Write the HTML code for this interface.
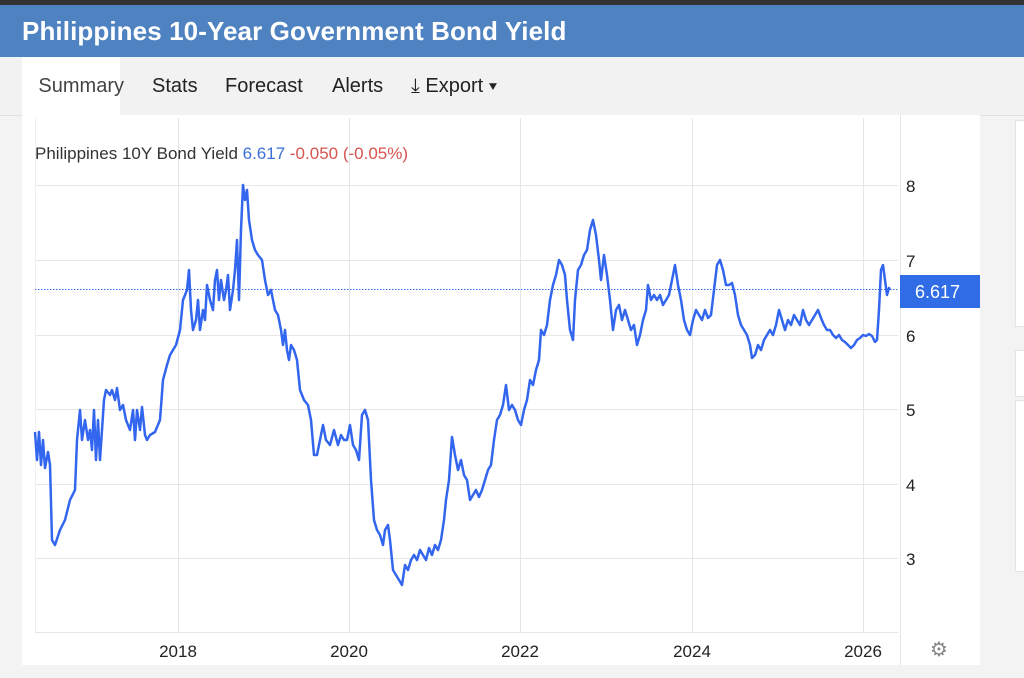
<!DOCTYPE html>
<html><head><meta charset="utf-8"><style>
body{margin:0;width:1024px;height:678px;overflow:hidden;background:#f3f3f3;font-family:"Liberation Sans",Arial,sans-serif;position:relative}
.top{position:absolute;left:0;top:0;width:1024px;height:5px;background:#333}
.hdr{position:absolute;left:0;top:5px;width:1024px;height:52px;background:#4f82c0;color:#fff;font-weight:bold;font-size:26px;line-height:52px;padding-left:22px;box-sizing:border-box;letter-spacing:0.1px}
.tabs{position:absolute;left:0;top:57px;width:1024px;height:58px;background:#f2f2f2;border-bottom:1px solid #e0e0e0}
.tab{position:absolute;top:0;height:58px;line-height:58px;font-size:20px;color:#222}
.panel{position:absolute;left:22px;top:115px;width:958px;height:550px;background:#fff}
.side{position:absolute;left:1015px;background:#fff;border:1px solid #e4e4e4;width:20px}
</style></head><body>
<div class="top"></div>
<div class="hdr">Philippines 10-Year Government Bond Yield</div>
<div class="tabs">
<div class="tab" style="left:22px;width:98px;background:#fff;text-align:right;padding-right:0;color:#444;height:59px"><span style="margin-right:-4px">Summary</span></div>
<div class="tab" style="left:152px">Stats</div>
<div class="tab" style="left:225px">Forecast</div>
<div class="tab" style="left:332px">Alerts</div>
<div class="tab" style="left:411px">⤓ Export ▾</div>
</div>
<div class="panel"></div>
<div class="side" style="top:120px;height:205px"></div>
<div class="side" style="top:350px;height:45px"></div>
<div class="side" style="top:400px;height:170px"></div>
<svg style="position:absolute;left:0;top:0" width="1024" height="678">
<g stroke="#e6e6e6" stroke-width="1">
<line x1="35" y1="185.5" x2="898" y2="185.5"/><line x1="35" y1="260.5" x2="898" y2="260.5"/><line x1="35" y1="335.5" x2="898" y2="335.5"/><line x1="35" y1="409.5" x2="898" y2="409.5"/><line x1="35" y1="484.5" x2="898" y2="484.5"/><line x1="35" y1="558.5" x2="898" y2="558.5"/>
<line x1="178.5" y1="118" x2="178.5" y2="632"/><line x1="349.5" y1="118" x2="349.5" y2="632"/><line x1="520.5" y1="118" x2="520.5" y2="632"/><line x1="692.5" y1="118" x2="692.5" y2="632"/><line x1="863.5" y1="118" x2="863.5" y2="632"/>
<line x1="35" y1="632.5" x2="898" y2="632.5"/><line x1="900.5" y1="115" x2="900.5" y2="665"/><line x1="35.5" y1="118" x2="35.5" y2="632" stroke="#f0f0f0"/>
</g>
<line x1="35" y1="289.5" x2="898" y2="289.5" stroke="#3a6ee8" stroke-width="1" stroke-dasharray="1.5,1.5"/>
<polyline fill="none" stroke="#3366ee" stroke-width="2.5" stroke-linejoin="round" points="35,432 37,460 39,432 41,465 43,440 45,468 48,452 50,465 52,540 55,545 60,530 65,520 70,500 75,490 77,440 80,410 82,440 85,420 88,440 90,430 92,450 94,410 96,460 98,420 100,460 102,430 104,400 106,390 110,395 112,390 115,400 117,388 120,410 123,405 126,420 130,430 133,410 135,440 137,410 140,430 142,407 145,435 147,440 150,435 155,432 160,420 163,380 167,365 170,355 173,350 176,345 180,330 183,300 187,290 189,270 191,310 193,330 196,320 198,300 200,330 203,310 205,320 207,285 210,300 213,310 215,280 217,270 219,300 221,280 224,300 226,290 228,275 230,310 233,290 235,270 237,240 239,300 241,230 243,185 245,200 247,190 249,220 252,240 255,250 258,255 262,260 265,280 268,295 271,290 275,310 278,315 281,330 283,345 285,330 287,350 289,360 291,345 294,350 297,360 300,390 304,400 308,405 311,420 314,455 317,455 320,440 323,425 326,440 330,445 334,430 338,445 341,435 344,440 347,440 350,425 353,445 356,450 359,460 362,415 365,410 368,420 371,480 374,520 377,530 380,535 383,545 385,530 388,525 390,540 393,570 396,575 399,580 402,585 405,565 408,570 411,560 414,555 417,560 420,550 423,555 426,560 429,548 432,555 435,545 438,550 441,540 444,520 446,500 449,480 452,437 455,455 458,470 461,460 464,475 467,480 470,500 473,495 476,490 479,497 482,490 485,480 488,470 491,465 494,440 497,420 500,415 503,405 506,385 509,410 512,405 515,410 518,420 521,425 524,410 527,400 530,380 533,385 536,370 539,360 541,330 544,335 547,325 550,300 553,285 556,275 559,260 562,265 565,275 567,300 570,330 573,340 575,300 578,270 581,265 584,255 587,250 590,230 593,220 596,235 599,260 601,280 604,255 607,275 610,300 613,330 616,310 619,305 622,320 625,310 628,320 631,330 634,325 637,345 640,335 643,320 646,310 648,285 651,300 654,295 657,300 660,295 663,305 666,300 669,295 672,280 675,265 678,285 681,300 684,320 687,330 690,335 693,320 696,310 699,315 702,320 705,310 708,318 711,315 714,290 717,265 720,260 723,270 726,285 729,285 732,283 735,295 738,315 741,325 744,330 747,335 750,345 752,358 755,355 758,345 761,350 764,340 767,335 770,330 773,335 776,325 779,310 782,320 785,330 788,320 791,325 794,315 797,320 800,325 803,310 806,320 809,325 812,320 815,315 818,310 821,318 824,325 827,330 830,330 833,335 836,338 839,335 842,340 845,342 848,345 851,348 854,345 857,340 860,338 863,335 866,336 869,334 872,336 875,342 877,340 879,310 881,270 883,265 885,280 887,295 889,288 890,290"/>
<g font-family="Liberation Sans,Arial,sans-serif" font-size="17" fill="#222">
<text x="906" y="192">8</text><text x="906" y="267">7</text><text x="906" y="342">6</text><text x="906" y="416">5</text><text x="906" y="491">4</text><text x="906" y="565">3</text>
<text x="178" y="657" text-anchor="middle">2018</text><text x="349" y="657" text-anchor="middle">2020</text><text x="520" y="657" text-anchor="middle">2022</text><text x="692" y="657" text-anchor="middle">2024</text><text x="863" y="657" text-anchor="middle">2026</text>
</g>
<rect x="900" y="275" width="80" height="33" fill="#2f6ce5"/>
<text x="915" y="298" font-family="Liberation Sans,Arial,sans-serif" font-size="18" fill="#fff">6.617</text>
<text x="939" y="656" font-size="20" fill="#888" text-anchor="middle" font-family="DejaVu Sans,sans-serif">⚙</text>
<text x="35" y="159" font-family="Liberation Sans,Arial,sans-serif" font-size="17"><tspan fill="#333">Philippines 10Y Bond Yield </tspan><tspan fill="#3a6fd8">6.617</tspan><tspan fill="#d9534f">  -0.050 (-0.05%)</tspan></text>
</svg>
</body></html>
